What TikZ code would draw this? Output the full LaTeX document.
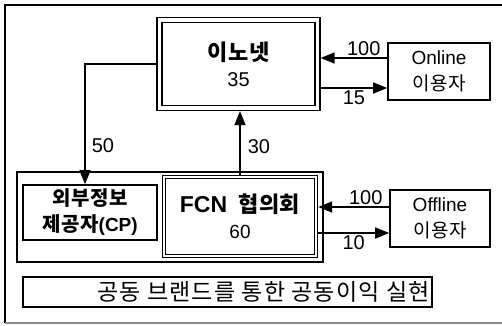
\documentclass[tikz,border=0pt]{standalone}
\usepackage{fontspec}
\setmainfont{Liberation Sans}
\newfontfamily\kr[LetterSpace=3]{Noto Sans CJK KR}
\newfontfamily\krwide[WordSpace=3.5,LetterSpace=5]{Noto Sans CJK KR}
\usetikzlibrary{arrows.meta, positioning}

\begin{document}
\begin{tikzpicture}[x=1pt, y=-1pt, >={Triangle[length=14pt,width=11pt]}, line width=1.6pt,
  font=\fontsize{19}{26}\selectfont]
\tikzstyle{box}=[draw=black, align=center, inner sep=0pt, line width=1.6pt]
\tikzstyle{dbox}=[box, double, line width=1.4pt]
\tikzstyle{lbl}=[inner sep=2pt, font=\fontsize{20}{24}\selectfont]

\useasboundingbox (0,0) rectangle (502,325);
\draw (506,5) -- (5,5) -- (5,323);
\draw[black!45] (5,323) -- (506,323);

\node[dbox, double distance=3.4pt, outer sep=3.1pt, minimum width=158pt, minimum height=88pt] (inet) at (238.5,64)
  {{\kr\bfseries\fontsize{22}{28}\selectfont 이노넷}\\{\fontsize{20}{28}\selectfont 35}};
\node[box, minimum width=102pt, minimum height=57pt] (on) at (439,71.5) {Online\\{\kr 이용자}};

\node[box, minimum width=306pt, minimum height=90pt] (grp) at (170,217) {};
\node[box, minimum width=134pt, minimum height=55pt] (cp) at (90,212.5)
  {{\kr\bfseries\fontsize{20}{27}\selectfont 외부정보}\\{\kr\bfseries\fontsize{20}{27}\selectfont 제공자}{\bfseries(CP)}};
\node[dbox, double distance=1.6pt, outer sep=2.2pt, minimum width=152pt, minimum height=79pt] (fcn) at (240,216.5)
  {{\bfseries\fontsize{23}{26}\selectfont FCN}\hspace{11pt}{\kr\bfseries\fontsize{22}{26}\selectfont 협의회}\\60};
\node[box, minimum width=100pt, minimum height=57pt] (off) at (440,218.5) {Offline\\{\kr 이용자}};

\node[box, minimum width=409pt, minimum height=30pt, text width=404pt, align=right] (goal) at (227.5,292)
  {\krwide\fontsize{23}{26}\selectfont 공동 브랜드를 통한 공동이익 실현};

\path[->]
([yshift=13.5pt]on.west) edge node[lbl, pos=0, anchor=south east, xshift=-4pt] {100} ([yshift=13.5pt]on.west -| inet.east)
([yshift=-16.5pt]on.west -| inet.east) edge node[lbl, below] {15} ([yshift=-16.5pt]on.west)
([yshift=11.5pt]off.west) edge node[lbl, pos=0, anchor=south east, xshift=-4pt] {100} ([yshift=11.5pt]off.west -| fcn.east)
([yshift=-14.5pt]off.west -| fcn.east) edge node[lbl, below] {10} ([yshift=-14.5pt]off.west);

\draw[->] (inet.west) -| node[lbl, right, pos=0.84, xshift=4pt] {50} ([xshift=-5pt]cp.north);
\draw[->] (fcn.north) -- node[lbl, right, pos=0.44, xshift=5pt] {30} (fcn.north |- inet.south);
\end{tikzpicture}
\end{document}
